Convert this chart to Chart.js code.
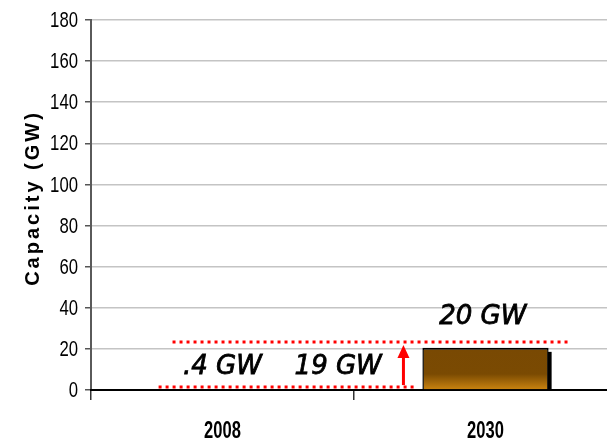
<!DOCTYPE html>
<html><head><meta charset="utf-8">
<style>html,body{margin:0;padding:0;background:#fff;overflow:hidden;width:607px;height:442px}canvas{display:block}</style>
<script src="https://cdn.jsdelivr.net/npm/chart.js@4"></script>
</head><body>
<canvas id="c" width="640" height="442"></canvas>
<script>
// ---- data ----
const categories = ['2008', '2030'];
const capacityGW = [0.4, 20.5];
const yTickMin = 0, yTickMax = 180, yTickStep = 20;
const yTitle = 'Capacity (GW)';
// annotations: [category position, value]
const annoTexts = ['.4 GW', '19 GW', '20 GW'];
const annoTextPos = [[0.0, 11.2], [0.44, 11.2], [0.99, 35.5]];
// dotted lines: [fromCat, toCat, value]
const dottedLines = [[-0.19, 1.316, 23.3], [-0.243, 0.741, 1.5]];
// arrow: [cat, fromValue, toValue]
const arrow = [0.688, 2.4, 21.9];

const SANS = "'Liberation Sans', Arial, sans-serif";

function catPx(x, c) {
  const p0 = x.getPixelForValue(0), p1 = x.getPixelForValue(1);
  return p0 + c * (p1 - p0);
}

function narrowText(ctx, txt, px, py, align, sx) {
  ctx.save();
  ctx.translate(px, py);
  ctx.scale(sx, 1);
  ctx.textAlign = align;
  ctx.textBaseline = 'middle';
  ctx.fillText(txt, 0, 0);
  ctx.restore();
}

const annoPlugin = {
  id: 'anno',
  beforeDatasetsDraw(chart) {
    const ctx = chart.ctx, meta = chart.getDatasetMeta(0), y = chart.scales.y;
    ctx.save();
    ctx.fillStyle = '#000';
    meta.data.forEach((b) => {
      const h = y.getPixelForValue(0) - b.y;
      if (h < 4) return;
      ctx.fillRect(b.x + b.width / 2 - 1, b.y + 4, 4, y.getPixelForValue(0) - b.y - 4);
    });
    ctx.restore();
  },
  afterDraw(chart) {
    const ctx = chart.ctx, x = chart.scales.x, y = chart.scales.y;
    ctx.save();
    ctx.fillStyle = '#000';
    // y tick labels (narrow)
    ctx.font = '22px ' + SANS;
    y.ticks.forEach((t) => {
      narrowText(ctx, String(t.value), y.right - 13, y.getPixelForValue(t.value) + 1, 'right', 0.76);
    });
    // x tick labels (narrow bold)
    ctx.font = 'bold 23px ' + SANS;
    categories.forEach((c, i) => {
      narrowText(ctx, c, x.getPixelForValue(i), x.top + 42, 'center', 0.72);
    });
    // y title with letter spacing
    ctx.save();
    ctx.translate(33, (chart.chartArea.top + chart.chartArea.bottom) / 2 - 6);
    ctx.rotate(-Math.PI / 2);
    ctx.font = 'bold 20px ' + SANS;
    try { ctx.letterSpacing = '3px'; } catch (e) {}
    ctx.textAlign = 'center';
    ctx.textBaseline = 'middle';
    ctx.fillText(yTitle, 1, 0);
    ctx.restore();
    // dotted lines
    ctx.strokeStyle = '#ff0000';
    ctx.lineWidth = 3;
    ctx.setLineDash([3, 4]);
    dottedLines.forEach(([a, b, v]) => {
      const py = y.getPixelForValue(v);
      ctx.beginPath();
      ctx.moveTo(catPx(x, a), py);
      ctx.lineTo(catPx(x, b), py);
      ctx.stroke();
    });
    ctx.setLineDash([]);
    // arrow
    const ax = catPx(x, arrow[0]), ay0 = y.getPixelForValue(arrow[1]), ay1 = y.getPixelForValue(arrow[2]);
    ctx.beginPath();
    ctx.moveTo(ax, ay0);
    ctx.lineTo(ax, ay1 + 10);
    ctx.stroke();
    ctx.fillStyle = '#ff0000';
    ctx.beginPath();
    ctx.moveTo(ax, ay1);
    ctx.lineTo(ax - 6, ay1 + 13);
    ctx.lineTo(ax + 6, ay1 + 13);
    ctx.closePath();
    ctx.fill();
    // texts
    ctx.fillStyle = '#000';
    ctx.strokeStyle = '#000';
    ctx.lineWidth = 0.8;
    ctx.font = "italic 26px 'DejaVu Sans', Verdana, sans-serif";
    ctx.textAlign = 'center';
    ctx.textBaseline = 'middle';
    annoTexts.forEach((t, i) => {
      const px = catPx(x, annoTextPos[i][0]), py = y.getPixelForValue(annoTextPos[i][1]);
      ctx.fillText(t, px, py);
      ctx.strokeText(t, px, py);
    });
    ctx.restore();
  }
};

function barFill(c) {
  const chart = c.chart, y = chart.scales && chart.scales.y;
  if (!y || c.dataIndex === undefined) return '#7a4a03';
  const top = y.getPixelForValue(capacityGW[c.dataIndex]);
  const bot = y.getPixelForValue(0);
  if (!isFinite(top) || !isFinite(bot) || bot - top < 2) return '#7a4a03';
  const g = chart.ctx.createLinearGradient(0, top, 0, bot);
  g.addColorStop(0, '#794903');
  g.addColorStop(0.62, '#7a4a02');
  g.addColorStop(1, '#cc8510');
  return g;
}

new Chart(document.getElementById('c'), {
  type: 'bar',
  data: {
    labels: categories,
    datasets: [{
      data: capacityGW,
      backgroundColor: barFill,
      borderColor: '#000',
      borderWidth: {top: 2, left: 1.5, right: 1.5, bottom: 0},
      barPercentage: 0.48,
      categoryPercentage: 1
    }]
  },
  options: {
    responsive: false,
    devicePixelRatio: 1,
    animation: false,
    layout: {padding: {top: 20, left: 0, right: 23, bottom: 0}},
    plugins: {legend: {display: false}, tooltip: {enabled: false}},
    scales: {
      y: {
        min: yTickMin, max: yTickMax,
        ticks: {stepSize: yTickStep, color: 'rgba(0,0,0,0)', font: {family: SANS, size: 19}, padding: 8},
        grid: {
          color: (c) => c.tick && c.tick.value === 0 ? 'rgba(0,0,0,0)' : '#c4c4c4',
          lineWidth: 1.5, tickColor: '#555', tickLength: 6
        },
        border: {color: '#5a5a5a', width: 2},
        afterFit: (s) => { s.width = 91; }
      },
      x: {
        ticks: {color: 'rgba(0,0,0,0)', font: {family: SANS, size: 19, weight: 'bold'}, padding: 20},
        grid: {drawOnChartArea: false, tickColor: '#333', tickLength: 10, lineWidth: 1.5},
        border: {color: '#000', width: 2},
        afterFit: (s) => { s.height = 52; }
      }
    }
  },
  plugins: [annoPlugin]
});
</script>
</body></html>
